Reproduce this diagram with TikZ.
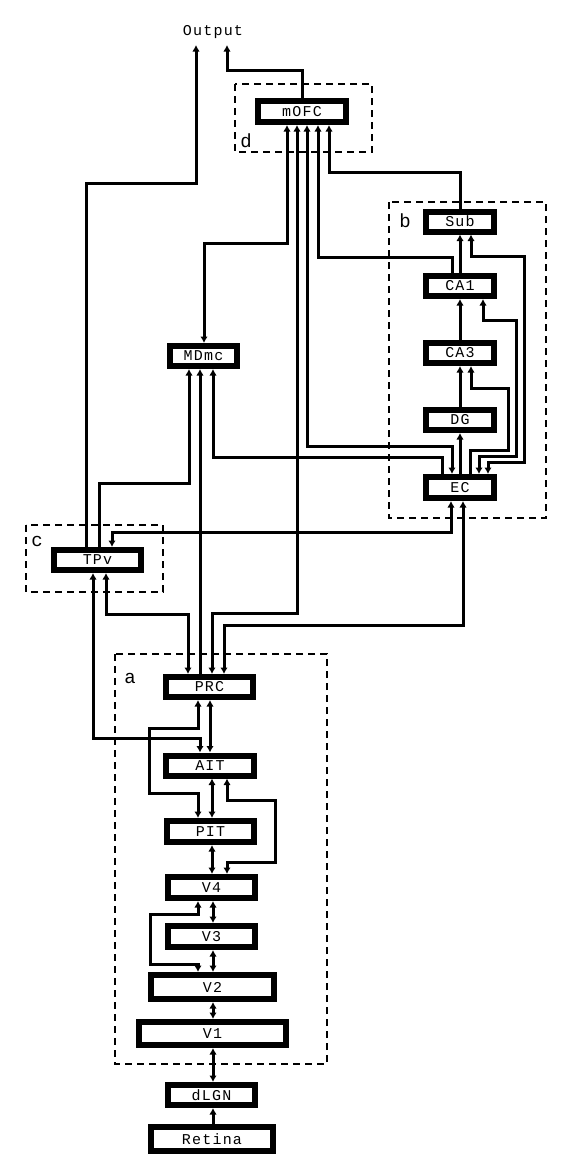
\documentclass[tikz,border=0pt]{standalone}
\usepackage{fontspec}
\newfontfamily\plotfont[LetterSpace=8]{Liberation Mono}
\usetikzlibrary{arrows.meta}
\begin{document}
\begin{tikzpicture}[x=1pt,y=-1pt,
  area/.style={draw, line width=6pt, fill=white, inner sep=0pt, outer sep=3pt,
    font=\plotfont\fontsize{15}{15}\selectfont},
  wire/.style={line width=3pt, >={Latex[length=6.5pt,width=7.5pt]}},
  grp/.style={line width=1.2pt, dash pattern=on 7pt off 5pt},
  grplabel/.style={font=\plotfont\fontsize{19}{19}\selectfont, inner sep=0pt},
  ]
\fill[white] (0,0) rectangle (574,1160);
\useasboundingbox (0,0) rectangle (574,1160);

% group frames
\draw[grp] (235,84) rectangle (372,152);
\draw[grp] (389,202) rectangle (546,518);
\draw[grp] (26,525) rectangle (163,592);
\draw[grp] (115,654) rectangle (327,1064);
\node[grplabel] (la) at (130,678) {a};
\node[grplabel] (lb) at (405,221) {b};
\node[grplabel] (lc) at (37,541) {c};
\node[grplabel] (ld) at (246,141) {d};

% areas
\node[area, minimum width=88pt, minimum height=21pt] (mOFC) at (302,111.5) {mOFC};
\node[area, minimum width=68pt, minimum height=20pt] (Sub) at (460,221.5) {Sub};
\node[area, minimum width=68pt, minimum height=20pt] (CA1) at (460,286) {CA1};
\node[area, minimum width=68pt, minimum height=20pt] (CA3) at (460,353) {CA3};
\node[area, minimum width=68pt, minimum height=20pt] (DG) at (460,420) {DG};
\node[area, minimum width=68pt, minimum height=21pt] (EC) at (460,487.5) {EC};
\node[area, minimum width=67pt, minimum height=20pt] (MDmc) at (203.5,356) {MDmc};
\node[area, minimum width=87pt, minimum height=20pt] (TPv) at (97.5,560) {TPv};
\node[area, minimum width=87pt, minimum height=20pt] (PRC) at (209.5,687) {PRC};
\node[area, minimum width=88pt, minimum height=20pt] (AIT) at (210,765.5) {AIT};
\node[area, minimum width=87pt, minimum height=21pt] (PIT) at (210.5,831.5) {PIT};
\node[area, minimum width=87pt, minimum height=21pt] (V4) at (211.5,887.5) {V4};
\node[area, minimum width=87pt, minimum height=21pt] (V3) at (211.5,936.5) {V3};
\node[area, minimum width=123pt, minimum height=24pt] (V2) at (212.5,987) {V2};
\node[area, minimum width=147pt, minimum height=23pt] (V1) at (212.5,1033.5) {V1};
\node[area, minimum width=87pt, minimum height=20pt] (dLGN) at (211.5,1095) {dLGN};
\node[area, minimum width=122pt, minimum height=24pt] (Retina) at (212,1139) {Retina};

\node[font=\plotfont\fontsize{15}{15}\selectfont, anchor=base, inner sep=0pt] (out) at (213,35) {Output};
\coordinate (outL) at (196,45);
\coordinate (outR) at (227,45);

% outputs
\draw[wire,->] (86,0 |- TPv.north) -- (86,183) -- (196,183) -- (outL);
\draw[wire,->] (mOFC.north) -- (302,70) -- (227,70) -- (outR);

% mOFC connections
\draw[wire,<->] (287,0 |- mOFC.south) -- (287,243) -- (204,243) -- (204,0 |- MDmc.north);
\draw[wire,<->] (297,0 |- mOFC.south) -- (297,613) -- (212,613) -- (212,0 |- PRC.north);
\draw[wire,<->] (307,0 |- mOFC.south) -- (307,446) -- (452,446) -- (452,0 |- EC.north);
\draw[wire,->] (452,0 |- CA1.north) -- (452,257) -- (318,257) -- (318,0 |- mOFC.south);
\draw[wire,->] (Sub.north) -- (460,172) -- (329,172) -- (329,0 |- mOFC.south);

% MDmc inputs
\draw[wire,->] (99,0 |- TPv.north) -- (99,483) -- (189,483) -- (189,0 |- MDmc.south);
\draw[wire,->] (200,0 |- PRC.north) -- (200,0 |- MDmc.south);
\draw[wire,->] (442,0 |- EC.north) -- (442,457) -- (213,457) -- (213,0 |- MDmc.south);

% EC to cortex
\draw[wire,<->] (451,0 |- EC.south) -- (451,532) -- (112,532) -- (112,0 |- TPv.north);
\draw[wire,<->] (463,0 |- EC.south) -- (463,625) -- (224,625) -- (224,0 |- PRC.north);

% TPv to ventral stream
\draw[wire,<->] (106,0 |- TPv.south) -- (106,614) -- (188,614) -- (188,0 |- PRC.north);
\draw[wire,<->] (93,0 |- TPv.south) -- (93,738) -- (200,738) -- (200,0 |- AIT.north);

% ventral stream
\draw[wire,<->] (198,0 |- PRC.south) -- (198,728) -- (149,728) -- (149,793) -- (198,793) -- (198,0 |- PIT.north);
\draw[wire,<->] (210,0 |- PRC.south) -- (210,0 |- AIT.north);
\draw[wire,<->] (212,0 |- AIT.south) -- (212,0 |- PIT.north);
\draw[wire,<->] (227,0 |- AIT.south) -- (227,800) -- (275,800) -- (275,862) -- (227,862) -- (227,0 |- V4.north);
\draw[wire,<->] (212,0 |- PIT.south) -- (212,0 |- V4.north);
\draw[wire,<->] (198,0 |- V4.south) -- (198,914) -- (150,914) -- (150,964) -- (198,964) -- (198,0 |- V2.north);
\draw[wire,<->] (213,0 |- V4.south) -- (213,0 |- V3.north);
\draw[wire,<->] (213,0 |- V3.south) -- (213,0 |- V2.north);
\draw[wire,<->] (213,0 |- V2.south) -- (213,0 |- V1.north);
\draw[wire,<->] (213,0 |- V1.south) -- (213,0 |- dLGN.north);
\draw[wire,->] (213,0 |- Retina.north) -- (213,0 |- dLGN.south);

% hippocampal formation
\draw[wire,->] (EC.north) -- (DG.south);
\draw[wire,->] (DG.north) -- (CA3.south);
\draw[wire,->] (CA3.north) -- (CA1.south);
\draw[wire,->] (CA1.north) -- (Sub.south);
\draw[wire,->] (470,0 |- EC.north) -- (470,450) -- (508,450) -- (508,388) -- (471,388) -- (471,0 |- CA3.south);
\draw[wire,<->] (479,0 |- EC.north) -- (479,456) -- (516,456) -- (516,320) -- (483,320) -- (483,0 |- CA1.south);
\draw[wire,<->] (488,0 |- EC.north) -- (488,462) -- (524,462) -- (524,256) -- (471,256) -- (471,0 |- Sub.south);
\end{tikzpicture}
\end{document}
